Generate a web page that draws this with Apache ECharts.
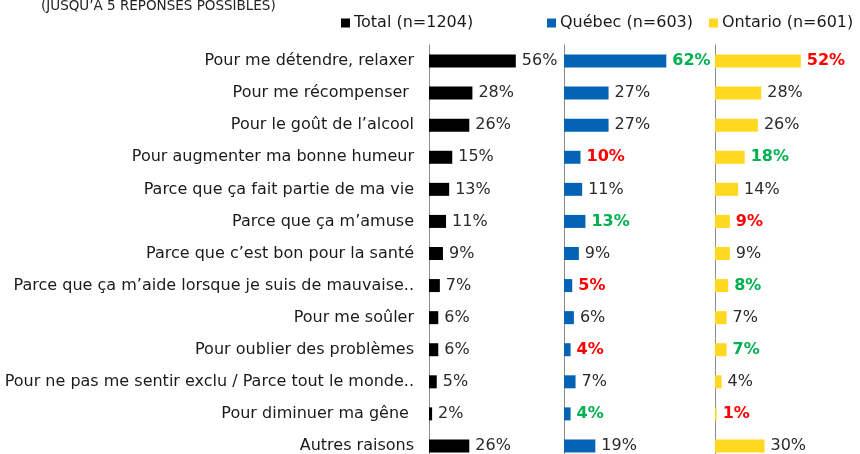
<!DOCTYPE html>
<html>
<head>
<meta charset="utf-8">
<script src="https://cdn.jsdelivr.net/npm/echarts@6/dist/echarts.min.js"></script>
<style>
  html, body { margin: 0; padding: 0; background: #fff; }
  #chart { width: 860px; height: 454px; }
</style>
</head>
<body>
<div id="chart"></div>
<script>
var categories = [
    'Pour me détendre, relaxer',
    'Pour me récompenser ',
    'Pour le goût de l’alcool',
    'Pour augmenter ma bonne humeur',
    'Parce que ça fait partie de ma vie',
    'Parce que ça m’amuse',
    'Parce que c’est bon pour la santé',
    'Parce que ça m’aide lorsque je suis de mauvaise..',
    'Pour me soûler',
    'Pour oublier des problèmes',
    'Pour ne pas me sentir exclu / Parce tout le monde..',
    'Pour diminuer ma gêne ',
    'Autres raisons'
];
var totalValues = [56, 28, 26, 15, 13, 11, 9, 7, 6, 6, 5, 2, 26];
var quebecValues = [62, 27, 27, 10, 11, 13, 9, 5, 6, 4, 7, 4, 19];
var ontarioValues = [52, 28, 26, 18, 14, 9, 9, 8, 7, 7, 4, 1, 30];
// g = significativement plus haut (vert), r = plus bas (rouge)
var quebecFlags = ['g', '', '', 'r', '', 'g', '', 'r', '', 'r', '', 'g', ''];
var ontarioFlags = ['r', '', '', 'g', '', 'r', '', 'g', '', 'g', '', 'r', ''];
var seriesNames = ['Total (n=1204)', 'Québec (n=603)', 'Ontario (n=601)'];
var seriesColors = ['#000000', '#0563B5', '#FFD81F'];

var FONT = 'DejaVu Sans';

function buildData(values, flags) {
    return values.map(function (v, i) {
        var f = flags ? flags[i] : '';
        var item = { value: v };
        if (f === 'g') {
            item.label = { color: '#00B050', fontWeight: 'bold' };
        } else if (f === 'r') {
            item.label = { color: '#FF0000', fontWeight: 'bold' };
        }
        return item;
    });
}

var chart = echarts.init(document.getElementById('chart'));

var gridTop = 45, gridHeight = 417;
var grids = [
    { left: 429, top: gridTop, width: 124, height: gridHeight, outerBoundsMode: 'none', containLabel: false },
    { left: 564, top: gridTop, width: 132, height: gridHeight, outerBoundsMode: 'none', containLabel: false },
    { left: 715, top: gridTop, width: 132, height: gridHeight, outerBoundsMode: 'none', containLabel: false }
];

var xAxes = [], yAxes = [], series = [];
var allData = [
    buildData(totalValues, null),
    buildData(quebecValues, quebecFlags),
    buildData(ontarioValues, ontarioFlags)
];

for (var i = 0; i < 3; i++) {
    xAxes.push({
        type: 'value', gridIndex: i, min: 0, max: 80, show: false
    });
    yAxes.push({
        type: 'category', gridIndex: i, data: categories, inverse: true,
        axisLine: { show: true, lineStyle: { color: '#8c8c8c', width: 1 } },
        axisTick: { show: false },
        axisLabel: i === 0 ? {
            show: true, color: '#1a1a1a', fontSize: 16, fontFamily: FONT, margin: 15
        } : { show: false }
    });
    series.push({
        name: seriesNames[i],
        type: 'bar',
        xAxisIndex: i,
        yAxisIndex: i,
        data: allData[i],
        barWidth: 13,
        itemStyle: { color: seriesColors[i] },
        label: {
            show: true, position: 'right', distance: 6,
            formatter: '{c}%', color: '#2a2a2a', fontSize: 16, fontFamily: FONT
        },
        animation: false
    });
}

function legendFor(idx, left) {
    return {
        left: left, top: 10, icon: 'rect', itemWidth: 9, itemHeight: 9, itemGap: 4,
        data: [seriesNames[idx]],
        selectedMode: false,
        textStyle: { fontSize: 16, color: '#1a1a1a', fontFamily: FONT, padding: [0, 0, 0, -1] }
    };
}

chart.setOption({
    animation: false,
    title: {
        text: '(JUSQU’À 5 RÉPONSES POSSIBLES)',
        left: 36, top: -6,
        textStyle: { fontSize: 13.5, fontWeight: 'normal', color: '#222', fontFamily: FONT }
    },
    legend: [legendFor(0, 336), legendFor(1, 542), legendFor(2, 704)],
    grid: grids,
    xAxis: xAxes,
    yAxis: yAxes,
    series: series
});
</script>
</body>
</html>
